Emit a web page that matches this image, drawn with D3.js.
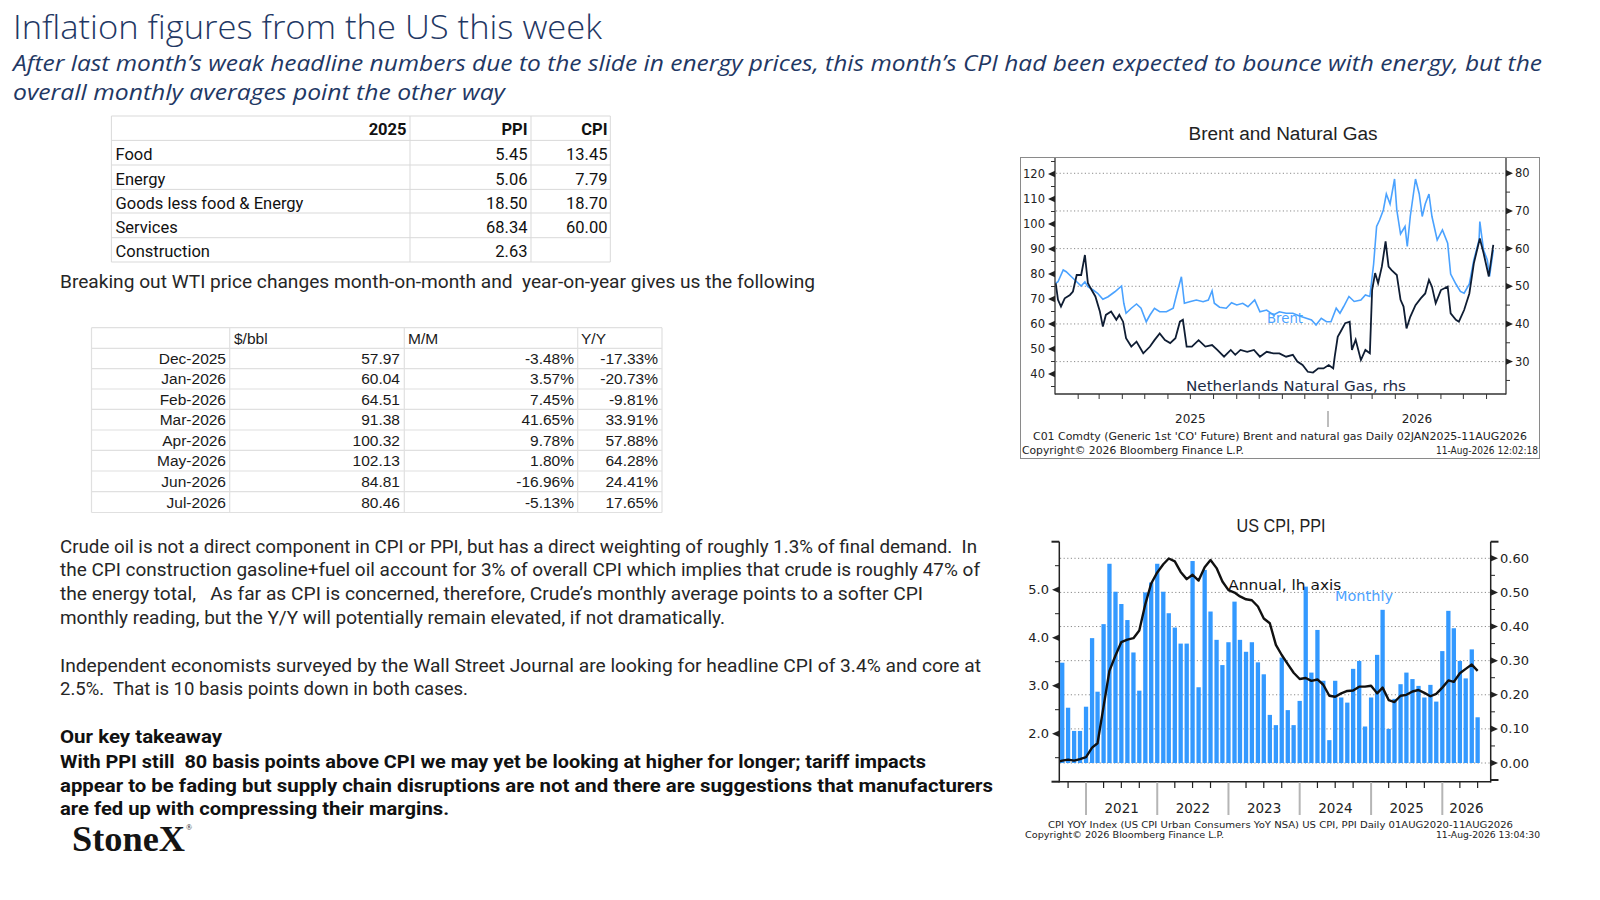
<!DOCTYPE html>
<html><head><meta charset="utf-8">
<script src="https://cdn.jsdelivr.net/npm/d3@7"></script>
<style>
html,body{margin:0;padding:0;background:#fff;}
svg{display:block;}
text{white-space:pre;}
</style></head><body>
<svg id="c" width="1600" height="900"></svg>
<script>
// ---------------- DATA ----------------
const titleText = "Inflation figures from the US this week";
const subtitleLines = [
  "After last month’s weak headline numbers due to the slide in energy prices, this month’s CPI had been expected to bounce with energy, but the",
  "overall monthly averages point the other way"
];
const table1Header = ["2025", "PPI", "CPI"];
const table1Rows = ["Food", "Energy", "Goods less food & Energy", "Services", "Construction"];
const table1PPI = ["5.45", "5.06", "18.50", "68.34", "2.63"];
const table1CPI = ["13.45", "7.79", "18.70", "60.00", ""];
const wtiIntro = "Breaking out WTI price changes month-on-month and  year-on-year gives us the following";
const wtiHeader = ["$/bbl", "M/M", "Y/Y"];
const wtiMonths = ["Dec-2025", "Jan-2026", "Feb-2026", "Mar-2026", "Apr-2026", "May-2026", "Jun-2026", "Jul-2026"];
const wtiPrice = [57.97, 60.04, 64.51, 91.38, 100.32, 102.13, 84.81, 80.46];
const wtiMoM = [-3.48, 3.57, 7.45, 41.65, 9.78, 1.80, -16.96, -5.13];
const wtiYoY = [-17.33, -20.73, -9.81, 33.91, 57.88, 64.28, 24.41, 17.65];
const para1 = [
  "Crude oil is not a direct component in CPI or PPI, but has a direct weighting of roughly 1.3% of final demand.  In",
  "the CPI construction gasoline+fuel oil account for 3% of overall CPI which implies that crude is roughly 47% of",
  "the energy total,   As far as CPI is concerned, therefore, Crude’s monthly average points to a softer CPI",
  "monthly reading, but the Y/Y will potentially remain elevated, if not dramatically."
];
const para2 = [
  "Independent economists surveyed by the Wall Street Journal are looking for headline CPI of 3.4% and core at",
  "2.5%.  That is 10 basis points down in both cases."
];
const takeaway = [
  "Our key takeaway",
  "With PPI still  80 basis points above CPI we may yet be looking at higher for longer; tariff impacts",
  "appear to be fading but supply chain disruptions are not and there are suggestions that manufacturers",
  "are fed up with compressing their margins."
];

// Brent (lhs, $/bbl)
const brentSeries = [
 ["2025-01-02",76.3],["2025-01-05",76.9],["2025-01-12",81.6],["2025-01-16",80.9],["2025-01-23",78.9],["2025-01-30",76.9],
 ["2025-02-05",75.2],["2025-02-10",76.9],["2025-02-14",74.9],["2025-02-21",73.6],["2025-02-27",72.3],["2025-03-06",69.9],
 ["2025-03-13",70.9],["2025-03-22",72.9],["2025-03-31",75.2],["2025-04-03",68.3],["2025-04-06",64.3],["2025-04-13",66.3],
 ["2025-04-20",68],["2025-04-26",66.3],["2025-05-03",60.9],["2025-05-08",63.6],["2025-05-14",66.3],["2025-05-21",64.9],
 ["2025-05-30",64.9],["2025-06-08",66.3],["2025-06-13",72.3],["2025-06-19",78.9],["2025-06-23",68.3],["2025-06-30",68.9],
 ["2025-07-09",69.6],["2025-07-18",68.9],["2025-07-25",69.6],["2025-07-30",73.3],["2025-08-02",68.3],["2025-08-09",66.7],
 ["2025-08-18",66.3],["2025-08-25",68.5],["2025-09-01",67.6],["2025-09-09",68.3],["2025-09-16",66.9],["2025-09-25",69.6],
 ["2025-10-02",64.9],["2025-10-11",65.6],["2025-10-20",63.6],["2025-10-28",64.9],["2025-11-06",64.3],["2025-11-15",64.3],
 ["2025-11-24",63.2],["2025-12-03",62.3],["2025-12-10",61.6],["2025-12-16",59.6],["2025-12-23",62.3],["2025-12-30",60.9],
 ["2026-01-05",60.9],["2026-01-12",66.3],["2026-01-17",64.3],["2026-01-22",67],["2026-01-29",71],["2026-02-05",69],
 ["2026-02-14",69.6],["2026-02-20",71.6],["2026-02-26",71],["2026-03-03",84],["2026-03-07",99],["2026-03-11",101.6],
 ["2026-03-16",105.6],["2026-03-20",112],["2026-03-25",108],["2026-03-31",118],["2026-04-03",105.6],["2026-04-08",96],
 ["2026-04-14",99],["2026-04-17",91],["2026-04-21",103],["2026-04-28",118],["2026-05-03",112],["2026-05-07",103],
 ["2026-05-11",108],["2026-05-16",112],["2026-05-20",103],["2026-05-27",93.6],["2026-06-03",97.6],["2026-06-10",92.3],
 ["2026-06-14",80],["2026-06-21",76],["2026-06-27",73],["2026-07-02",72.3],["2026-07-09",76],["2026-07-15",85.6],
 ["2026-07-22",93.6],["2026-07-23",101],["2026-07-28",89.6],["2026-08-02",85.6],["2026-08-05",79],["2026-08-10",89.6]
];
// Netherlands natural gas (rhs)
const gasSeries = [
 ["2025-01-02",50.8],["2025-01-05",46.4],["2025-01-09",44.6],["2025-01-14",46.8],["2025-01-21",47.7],["2025-01-25",48.6],
 ["2025-01-30",53],["2025-02-05",53],["2025-02-10",58.3],["2025-02-14",50.8],["2025-02-19",49],["2025-02-24",47.3],
 ["2025-03-02",43.3],["2025-03-06",39.3],["2025-03-10",42.4],["2025-03-17",43.3],["2025-03-24",41.1],["2025-03-28",42.4],
 ["2025-04-02",40.6],["2025-04-06",36.2],["2025-04-13",34],["2025-04-20",35.3],["2025-04-29",32.2],["2025-05-08",34],
 ["2025-05-14",35.7],["2025-05-21",37.5],["2025-05-28",35.7],["2025-06-04",34.9],["2025-06-11",36.2],["2025-06-17",40.6],
 ["2025-06-21",41.1],["2025-06-26",34],["2025-07-03",34],["2025-07-12",35.7],["2025-07-21",34],["2025-07-30",34.4],
 ["2025-08-06",33.1],["2025-08-15",31.3],["2025-08-24",33.1],["2025-08-30",31.8],["2025-09-06",33.1],["2025-09-15",32.6],
 ["2025-09-24",33.1],["2025-10-02",31.3],["2025-10-11",32.6],["2025-10-20",32.2],["2025-10-28",32.2],["2025-11-06",31.3],
 ["2025-11-15",31.8],["2025-11-21",30],["2025-11-28",29.1],["2025-12-05",27.3],["2025-12-12",27.1],["2025-12-19",28.2],
 ["2025-12-26",28.2],["2026-01-02",29.1],["2026-01-08",28.2],["2026-01-10",31.3],["2026-01-14",36.6],["2026-01-18",38],
 ["2026-01-24",40.2],["2026-01-30",40.6],["2026-02-02",33.1],["2026-02-07",35.8],["2026-02-14",30.4],["2026-02-20",33.1],
 ["2026-02-26",32.2],["2026-03-01",49],["2026-03-05",53.5],["2026-03-09",50.8],["2026-03-14",55.2],["2026-03-19",61.9],
 ["2026-03-23",55.2],["2026-03-27",54.3],["2026-04-03",53],["2026-04-08",46.4],["2026-04-12",44.6],["2026-04-16",38.8],
 ["2026-04-21",41.9],["2026-04-28",45],["2026-05-05",46.8],["2026-05-11",48.1],["2026-05-16",51.7],["2026-05-20",49.9],
 ["2026-05-25",45.5],["2026-06-01",49],["2026-06-10",49.9],["2026-06-14",42.8],["2026-06-21",41.1],["2026-06-25",40.6],
 ["2026-07-02",43.7],["2026-07-09",48.1],["2026-07-15",56.1],["2026-07-23",62.7],["2026-07-28",58.8],["2026-08-04",52.6],
 ["2026-08-10",61]
];
const brentLeftTicks = [40, 50, 60, 70, 80, 90, 100, 110, 120];
const brentRightTicks = [30, 40, 50, 60, 70, 80];
const brentYearLabels = ["2025", "2026"];

// US CPI monthly (rhs, bars) from Sep-2020 to Jul-2026 and annual (lhs) from Aug-2020
const cpiMonthly = [0.294,0.162,0.094,0.094,0.165,0.366,0.209,0.407,0.584,0.502,0.466,0.419,0.324,0.212,0.5,0.529,
 0.584,0.502,0.439,0.397,0.35,0.35,0.592,0.222,0.566,0.444,0.361,0.287,0.354,0.473,0.361,0.326,0.354,0.295,0.26,
 0.141,0.111,0.309,0.155,0.111,0.182,0.517,0.265,0.39,0.241,0.067,0.241,0.192,0.177,0.276,0.299,0.107,0.192,0.317,
 0.449,0.1,0.188,0.231,0.265,0.246,0.226,0.192,0.229,0.18,0.328,0.446,0.395,0.299,0.248,0.333,0.134];
const cpiAnnual = [1.40,1.44,1.46,1.44,1.47,1.51,1.71,1.8,2.57,3.31,3.63,3.91,3.96,3.99,4.15,4.70,5.13,5.36,5.53,5.65,
 5.59,5.37,5.22,5.31,5.19,5.47,5.62,5.45,5.17,4.99,4.94,4.86,4.80,4.78,4.65,4.40,4.30,3.85,3.64,3.45,3.27,3.14,3.16,
 3.10,3.13,3.02,2.79,2.77,2.84,2.89,2.90,2.98,2.98,3.00,2.84,2.96,2.70,2.66,2.79,2.81,2.88,2.91,2.85,2.78,2.83,2.96,
 3.11,3.08,3.26,3.35,3.44,3.31];
const cpiMonthlyStart = "2020-09";
const cpiAnnualStart = "2020-08";
const cpiLeftTicks = [2, 3, 4, 5];
const cpiRightTicks = [0, 0.1, 0.2, 0.3, 0.4, 0.5, 0.6];
const cpiYearLabels = ["2021", "2022", "2023", "2024", "2025", "2026"];

// ---------------- DRAW ----------------
const svg = d3.select("#c");
svg.append("rect").attr("width",1600).attr("height",900).attr("fill","#fff");
const parseDay = d3.timeParse("%Y-%m-%d");
const parseMonth = d3.timeParse("%Y-%m");
const f2 = v => v.toFixed(2);

function T(p, x, y, s, o = {}) {
  const t = p.append("text").attr("x", x).attr("y", y).text(s)
    .attr("font-family", o.ff || "Roboto").attr("font-size", o.fs || 16)
    .attr("fill", o.fill || "#222");
  if (o.fw) t.attr("font-weight", o.fw);
  if (o.it) t.attr("font-style", "italic");
  if (o.anchor) t.attr("text-anchor", o.anchor);
  if (o.len) t.attr("textLength", o.len).attr("lengthAdjust", "spacingAndGlyphs");
  return t;
}
function L(p, x1, y1, x2, y2, stroke, w, dash) {
  const l = p.append("line").attr("x1", x1).attr("y1", y1).attr("x2", x2).attr("y2", y2)
    .attr("stroke", stroke).attr("stroke-width", w || 1);
  if (dash) l.attr("stroke-dasharray", dash);
  return l;
}

// ---- Title & subtitle
const navy = "#1f3864";
T(svg, 13, 39, titleText, {ff: "Open Sans", fs: 33, fill: navy, fw: 300, len: 589});
T(svg, 13, 71, subtitleLines[0], {ff: "Open Sans", fs: 22, fill: navy, it: true, len: 1529});
T(svg, 13, 100, subtitleLines[1], {ff: "Open Sans", fs: 22, fill: navy, it: true, len: 492});

// ---- Table 1
const t1 = svg.append("g");
const t1Rows = [116, 140.4, 165, 189.4, 213, 237.7, 262];
const t1Cols = [111.4, 410, 531, 610.3];
t1Rows.forEach(y => L(t1, t1Cols[0], y, t1Cols[3], y, "#d9d9d9", 1));
t1Cols.forEach(x => L(t1, x, t1Rows[0], x, t1Rows[6], "#d9d9d9", 1));
const t1Centers = [128.6, 153.6, 178.6, 202.6, 226.6, 250.6];
T(t1, 406.5, t1Centers[0] + 6, table1Header[0], {fs: 16.5, fw: 700, anchor: "end", fill: "#111"});
T(t1, 527.5, t1Centers[0] + 6, table1Header[1], {fs: 16.5, fw: 700, anchor: "end", fill: "#111"});
T(t1, 607.5, t1Centers[0] + 6, table1Header[2], {fs: 16.5, fw: 700, anchor: "end", fill: "#111"});
table1Rows.forEach((r, i) => {
  const y = t1Centers[i + 1] + 6;
  T(t1, 115.5, y, r, {fs: 16.5, fill: "#111"});
  T(t1, 527.5, y, table1PPI[i], {fs: 16.5, anchor: "end", fill: "#111"});
  if (table1CPI[i]) T(t1, 607.5, y, table1CPI[i], {fs: 16.5, anchor: "end", fill: "#111"});
});

// ---- WTI intro sentence
T(svg, 60, 288, wtiIntro, {fs: 18, fill: "#262626", len: 755});

// ---- Table 2
const t2 = svg.append("g");
const t2Rows = [327.7, 348.3, 368.6, 389, 409.3, 430, 450.3, 471, 491.7, 512.5];
const t2Cols = [91.5, 229.7, 404.3, 577.7, 662];
t2Rows.forEach(y => L(t2, t2Cols[0], y, t2Cols[4], y, "#e0e0e0", 1.2));
t2Cols.forEach(x => L(t2, x, t2Rows[0], x, t2Rows[9], "#e0e0e0", 1.2));
const t2f = {ff: "Liberation Sans", fs: 15.5, fill: "#1a1a1a"};
T(t2, 234, 343.5, wtiHeader[0], t2f);
T(t2, 408, 343.5, wtiHeader[1], t2f);
T(t2, 581, 343.5, wtiHeader[2], t2f);
wtiMonths.forEach((m, i) => {
  const y = (t2Rows[i + 1] + t2Rows[i + 2]) / 2 + 5.5;
  T(t2, 226, y, m, Object.assign({anchor: "end"}, t2f));
  T(t2, 400, y, f2(wtiPrice[i]), Object.assign({anchor: "end"}, t2f));
  T(t2, 574, y, f2(wtiMoM[i]) + "%", Object.assign({anchor: "end"}, t2f));
  T(t2, 658, y, f2(wtiYoY[i]) + "%", Object.assign({anchor: "end"}, t2f));
});

// ---- Paragraphs
const p1Base = [552.5, 576, 600, 623.5];
const p1Len = [917, 920, 863, 665];
para1.forEach((s, i) => T(svg, 60, p1Base[i], s, {fs: 18, fill: "#262626", len: p1Len[i]}));
const p2Base = [671.5, 695];
const p2Len = [921, 408];
para2.forEach((s, i) => T(svg, 60, p2Base[i], s, {fs: 18, fill: "#262626", len: p2Len[i]}));
const tkBase = [743, 767.5, 791.5, 815];
const tkLen = [162, 866, 933, 389];
takeaway.forEach((s, i) => T(svg, 60, tkBase[i], s, {fs: 18, fw: 700, fill: "#111", len: tkLen[i]}));

// ---- Logo
T(svg, 72, 851, "StoneX", {ff: "Liberation Serif", fs: 36, fw: 700, fill: "#141414", len: 113});
T(svg, 186, 830, "®", {ff: "Liberation Serif", fs: 8, fill: "#141414"});

// ================= Brent chart =================
const gb = svg.append("g");
const bf = "DejaVu Sans";
T(gb, 1283, 139.5, "Brent and Natural Gas", {ff: "Liberation Sans", fs: 18, anchor: "middle", fill: "#222", len: 189});
gb.append("rect").attr("x", 1020.5).attr("y", 157.5).attr("width", 519).attr("height", 301)
  .attr("fill", "none").attr("stroke", "#8a8a8a").attr("stroke-width", 1);
const bx = d3.scaleTime().domain([new Date(2025, 0, 1), new Date(2026, 7, 27)]).range([1055, 1506]);
const byL = d3.scaleLinear().domain([32, 126.4]).range([394, 158]);
const byR = d3.scaleLinear().domain([21.4, 84.06]).range([394, 158]);
brentRightTicks.forEach(v => L(gb, 1056, byR(v), 1505, byR(v), "#8c8c8c", 1, "1.2,2.4"));
T(gb, 1267, 322.5, "Brent", {ff: bf, fs: 14, fill: "#4da3ff", len: 36});
T(gb, 1186, 391, "Netherlands Natural Gas, rhs", {ff: bf, fs: 13.5, fill: "#1c2b45", len: 220});
const clipB = gb.append("clipPath").attr("id", "clipB");
clipB.append("rect").attr("x", 1055).attr("y", 158).attr("width", 451).attr("height", 236);
const lineB = d3.line().x(d => bx(parseDay(d[0]))).y(d => byL(d[1]));
const lineG = d3.line().x(d => bx(parseDay(d[0]))).y(d => byR(d[1]));
gb.append("path").datum(brentSeries).attr("d", lineB).attr("fill", "none")
  .attr("stroke", "#4aa2ff").attr("stroke-width", 1.6).attr("clip-path", "url(#clipB)");
gb.append("path").datum(gasSeries).attr("d", lineG).attr("fill", "none")
  .attr("stroke", "#0f1d33").attr("stroke-width", 1.8).attr("clip-path", "url(#clipB)");
L(gb, 1055, 158, 1055, 394.5, "#333", 1.3);
L(gb, 1506, 158, 1506, 394.5, "#333", 1.3);
L(gb, 1055, 394, 1506, 394, "#333", 1.3);
brentLeftTicks.forEach(v => {
  const y = byL(v);
  gb.append("path").attr("d", `M1055,${y - 3.2}L1048,${y}L1055,${y + 3.2}Z`).attr("fill", "#222");
  T(gb, 1045, y + 4.2, String(v), {ff: bf, fs: 11.5, anchor: "end", fill: "#222"});
});
d3.range(35, 126, 10).forEach(v => L(gb, 1051, byL(v), 1055, byL(v), "#333", 1));
brentRightTicks.forEach(v => {
  const y = byR(v);
  gb.append("path").attr("d", `M1506,${y - 3.2}L1513,${y}L1506,${y + 3.2}Z`).attr("fill", "#222");
  T(gb, 1515, y + 4.2, String(v), {ff: bf, fs: 11.5, fill: "#222"});
});
d3.range(25, 84, 10).forEach(v => L(gb, 1506, byR(v), 1510, byR(v), "#333", 1));
d3.timeMonth.range(new Date(2025, 1, 1), new Date(2026, 8, 1)).forEach(d =>
  L(gb, bx(d), 394, bx(d), 399, "#333", 1));
L(gb, bx(new Date(2026, 0, 1)), 411, bx(new Date(2026, 0, 1)), 427, "#bdbdbd", 2);
T(gb, bx(new Date(2025, 6, 1)), 422.5, brentYearLabels[0], {ff: bf, fs: 12, anchor: "middle", fill: "#222"});
T(gb, (bx(new Date(2026, 0, 1)) + 1506) / 2, 422.5, brentYearLabels[1], {ff: bf, fs: 12, anchor: "middle", fill: "#222"});
T(gb, 1033, 440, "C01 Comdty (Generic 1st 'CO' Future) Brent and natural gas Daily 02JAN2025-11AUG2026",
  {ff: bf, fs: 10.5, fill: "#222", len: 494});
T(gb, 1022, 454, "Copyright© 2026 Bloomberg Finance L.P.", {ff: bf, fs: 10.5, fill: "#222", len: 222});
T(gb, 1538, 454, "11-Aug-2026 12:02:18", {ff: bf, fs: 10.5, fill: "#222", anchor: "end", len: 102});

// ================= CPI chart =================
const gc = svg.append("g");
T(gc, 1281, 532, "US CPI, PPI", {ff: "Liberation Sans", fs: 17.5, anchor: "middle", fill: "#222", len: 89});
const cx = d3.scaleTime().domain([new Date(2020, 7, 17), new Date(2026, 8, 6)]).range([1059.3, 1490.7]);
const cyL = d3.scaleLinear().domain([1, 6]).range([781.7, 541.7]);
const cyR = d3.scaleLinear().domain([0, 0.6]).range([763, 558.3]);
cpiRightTicks.forEach(v => L(gc, 1060, cyR(v), 1490, cyR(v), "#8c8c8c", 1, "1.2,2.4"));
const mStart = parseMonth(cpiMonthlyStart);
const monthlyDates = cpiMonthly.map((v, i) => d3.timeMonth.offset(mStart, i));
gc.selectAll("rect.bar").data(cpiMonthly).enter().append("rect").attr("class", "bar")
  .attr("x", (d, i) => cx(monthlyDates[i]) - 2.15).attr("width", 4.3)
  .attr("y", d => cyR(d)).attr("height", d => cyR(0) - cyR(d)).attr("fill", "#3399ff");
T(gc, 1335, 601, "Monthly", {ff: bf, fs: 14, fill: "#4da3ff", len: 58});
T(gc, 1228.3, 590, "Annual, lh axis", {ff: bf, fs: 14, fill: "#111", len: 113});
const aStart = parseMonth(cpiAnnualStart);
const clipC = gc.append("clipPath").attr("id", "clipC");
clipC.append("rect").attr("x", 1059.3).attr("y", 541).attr("width", 431.4).attr("height", 241);
gc.append("path").datum(cpiAnnual)
  .attr("d", d3.line().x((d, i) => cx(d3.timeMonth.offset(aStart, i))).y(d => cyL(d)))
  .attr("fill", "none").attr("stroke", "#111").attr("stroke-width", 2.4)
  .attr("stroke-linejoin", "round").attr("clip-path", "url(#clipC)");
L(gc, 1059.3, 541.7, 1059.3, 782.5, "#222", 1.5);
L(gc, 1490.7, 541.7, 1490.7, 782.5, "#222", 1.5);
L(gc, 1059.3, 781.7, 1490.7, 781.7, "#222", 1.5);
L(gc, 1051.5, 541.7, 1059.3, 541.7, "#222", 2);
L(gc, 1051.5, 781.7, 1059.3, 781.7, "#222", 2);
L(gc, 1490.7, 541.7, 1498.5, 541.7, "#222", 2);
L(gc, 1490.7, 780, 1498.5, 780, "#222", 2);
cpiLeftTicks.forEach(v => {
  const y = cyL(v);
  gc.append("path").attr("d", `M1059.3,${y - 3.3}L1052,${y}L1059.3,${y + 3.3}Z`).attr("fill", "#222");
  T(gc, 1049, y + 4.6, v.toFixed(1), {ff: bf, fs: 13, anchor: "end", fill: "#222"});
});
d3.range(1.5, 6, 1).forEach(v => L(gc, 1055, cyL(v), 1059.3, cyL(v), "#222", 1));
cpiRightTicks.forEach(v => {
  const y = cyR(v);
  gc.append("path").attr("d", `M1490.7,${y - 3.3}L1498,${y}L1490.7,${y + 3.3}Z`).attr("fill", "#222");
  T(gc, 1500, y + 4.6, v.toFixed(2), {ff: bf, fs: 13, fill: "#222"});
});
d3.range(0.05, 0.65, 0.1).forEach(v => L(gc, 1490.7, cyR(v), 1495, cyR(v), "#222", 1));
d3.timeMonth.every(3).range(new Date(2020, 9, 1), new Date(2026, 7, 2)).forEach(d => {
  if (d.getMonth() !== 0) L(gc, cx(d), 782, cx(d), 788, "#222", 1.2);
});
cpiYearLabels.forEach((lab, i) => {
  const y0 = new Date(2021 + i, 0, 1);
  L(gc, cx(y0), 782, cx(y0), 815, "#b5b5b5", 2);
  const xEnd = Math.min(cx(new Date(2022 + i, 0, 1)), 1490.7);
  T(gc, (cx(y0) + xEnd) / 2, 813, lab, {ff: bf, fs: 13.5, anchor: "middle", fill: "#222"});
});
T(gc, 1048, 827.5, "CPI YOY Index (US CPI Urban Consumers YoY NSA) US CPI, PPI Daily 01AUG2020-11AUG2026",
  {ff: bf, fs: 9.5, fill: "#222", len: 465});
T(gc, 1025, 837.5, "Copyright© 2026 Bloomberg Finance L.P.", {ff: bf, fs: 9.5, fill: "#222", len: 199});
T(gc, 1540, 837.5, "11-Aug-2026 13:04:30", {ff: bf, fs: 9.5, fill: "#222", anchor: "end", len: 104});
</script></body></html>
